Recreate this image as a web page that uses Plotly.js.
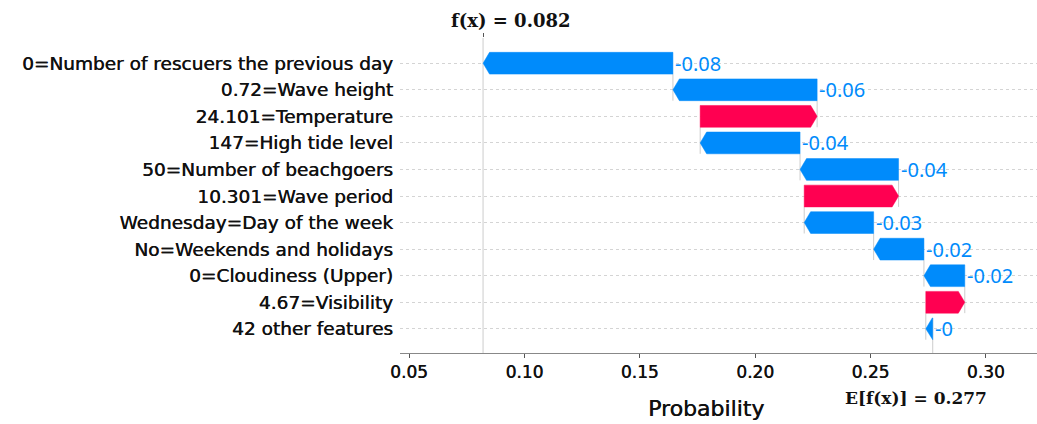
<!DOCTYPE html>
<html>
<head>
<meta charset="utf-8">
<script src="https://cdn.plot.ly/plotly-3.0.1.min.js"></script>
<style>html,body{margin:0;padding:0;background:#fff;}#chart{width:1037px;height:424px;}</style>
</head>
<body>
<div id="chart"></div>
<script>
// ---- data (top row first) ----
const features = [
  "0=Number of rescuers the previous day",
  "0.72=Wave height",
  "24.101=Temperature",
  "147=High tide level",
  "50=Number of beachgoers",
  "10.301=Wave period",
  "Wednesday=Day of the week",
  "No=Weekends and holidays",
  "0=Cloudiness (Upper)",
  "4.67=Visibility",
  "42 other features"
];
const shapValues = [-0.0823, -0.0625, 0.0507, -0.0433, -0.0427, 0.0409, -0.0301, -0.0218, -0.0177, 0.0169, -0.003];
const baseValue = 0.277;
const xTickVals = [0.05, 0.10, 0.15, 0.20, 0.25, 0.30];
const xTickText = ["0.05", "0.10", "0.15", "0.20", "0.25", "0.30"];

// ---- derived ----
const BLUE = "#008BFB", RED = "#FF0051", GREY = "#cccccc";
const n = features.length;
const start = new Array(n), end = new Array(n);
let cur = baseValue;
for (let i = n - 1; i >= 0; i--) { start[i] = cur; end[i] = cur + shapValues[i]; cur = end[i]; }
const fx = cur;
const h = 0.82, head = 0.0028;
const rows = features.map((_, i) => i);

const bx = [], by = [], rx = [], ry = [];
for (let i = 0; i < n; i++) {
  const v = shapValues[i], s = start[i], e = end[i], y = rows[i];
  const hl = Math.min(Math.abs(v), head);
  const neck = v < 0 ? e + hl : e - hl;
  const xs = [s, neck, e, neck, s, s];
  const ys = [y - h / 2, y - h / 2, y, y + h / 2, y + h / 2, y - h / 2];
  const X = v < 0 ? bx : rx, Y = v < 0 ? by : ry;
  X.push(...xs, null); Y.push(...ys, null);
}
const yTop = -0.95, yBot = 10.91;
const lx = [], ly = [];
for (let i = 0; i < n - 1; i++) { lx.push(start[i], start[i], null); ly.push(rows[i] + h / 2, rows[i + 1] + h / 2, null); }
lx.push(baseValue, baseValue, null); ly.push(rows[n - 1] - h / 2, yBot, null);
lx.push(fx, fx, null); ly.push(yTop, yBot, null);

function fmt(v) { let r = Math.round(v * 100) / 100; let s = String(r); if (r === 0 && v < 0) s = "-0"; return s; }

const LFONT = "DejaVu Sans, sans-serif";
const VFONT = "Noto Sans, sans-serif";
const SH = "0.45px 0 0 #111";
const traces = [
  {x: lx, y: ly, mode: "lines", line: {color: GREY, width: 1}, hoverinfo: "skip", showlegend: false},
  {x: bx, y: by, mode: "lines", fill: "toself", fillcolor: BLUE, line: {color: BLUE, width: 0.5}, hoverinfo: "skip", showlegend: false},
  {x: rx, y: ry, mode: "lines", fill: "toself", fillcolor: RED, line: {color: RED, width: 0.5}, hoverinfo: "skip", showlegend: false}
];

const annotations = [];
for (let i = 0; i < n; i++) {
  if (shapValues[i] < 0) {
    annotations.push({x: start[i], y: rows[i], xref: "x", yref: "y", text: fmt(shapValues[i]),
      showarrow: false, xanchor: "left", yanchor: "middle", xshift: 0, font: {family: VFONT, size: 20, color: BLUE}});
  }
}
annotations.push({x: fx, y: 1, xref: "x", yref: "paper", text: "<b>f(x) = " + fx.toFixed(3) + "</b>", showarrow: false,
  xanchor: "left", yanchor: "bottom", xshift: -34, yshift: 5, font: {family: "DejaVu Serif", size: 18, color: "#111"}});
annotations.push({x: baseValue, y: 0, xref: "x", yref: "paper", text: "<b>E[f(x)] = " + baseValue.toFixed(3) + "</b>", showarrow: false,
  xanchor: "left", yanchor: "top", xshift: -90, yshift: -33, font: {family: "DejaVu Serif", size: 17, color: "#111"}});
annotations.push({x: 0.48, y: 0, xref: "paper", yref: "paper", text: "Probability", showarrow: false,
  xanchor: "center", yanchor: "middle", yshift: -55, font: {family: LFONT, size: 22, color: "#111", shadow: SH}});

const layout = {
  width: 1037, height: 424,
  margin: {l: 400, r: 0, t: 38, b: 71},
  paper_bgcolor: "#fff", plot_bgcolor: "#fff",
  font: {family: LFONT, size: 18, color: "#111"},
  xaxis: {range: [0.0461, 0.3222], tickvals: xTickVals, ticktext: xTickText, showgrid: false, zeroline: false,
    showline: true, linecolor: "#888", linewidth: 1, ticks: "outside", ticklen: 4, tickcolor: "#555",
    tickfont: {family: LFONT, size: 17, color: "#111", shadow: SH}},
  xaxis2: {overlaying: "x", matches: "x", side: "top", tickvals: [fx], ticks: "outside", ticklen: 4, tickcolor: "#555",
    showticklabels: false, showgrid: false, zeroline: false, showline: false},
  yaxis: {range: [yBot, yTop], tickvals: rows, ticktext: features, showgrid: true, gridcolor: "#d4d4d4", griddash: "dot",
    gridwidth: 1, zeroline: false, showline: false, ticks: "", ticklabelstandoff: 6,
    tickfont: {family: LFONT, size: 18.5, color: "#111", shadow: SH}},
  annotations: annotations
};
traces.push({x: [fx], y: [0], xaxis: "x2", mode: "markers", marker: {opacity: 0}, hoverinfo: "skip", showlegend: false});
Plotly.newPlot("chart", traces, layout, {staticPlot: true, displayModeBar: false});
</script>
</body>
</html>
